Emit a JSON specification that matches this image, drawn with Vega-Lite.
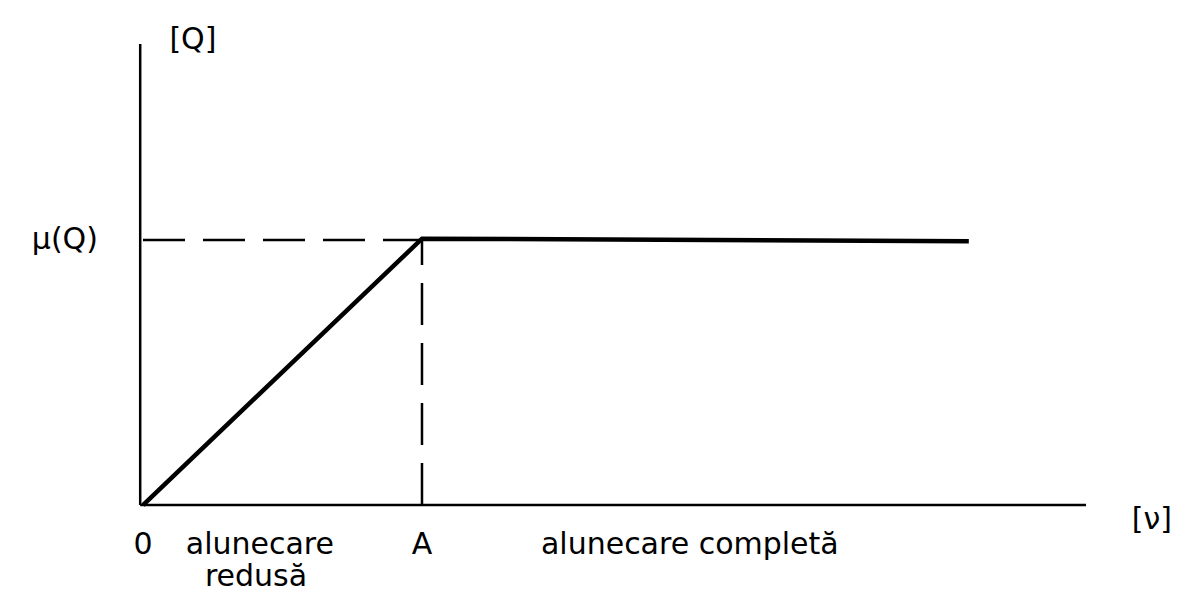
{
  "$schema": "https://vega.github.io/schema/vega-lite/v6.json",
  "width": 1191,
  "height": 595,
  "padding": 0,
  "autosize": {"type": "none"},
  "background": "white",
  "config": {"view": {"stroke": null}},
  "datasets": {
    "axes": [
      {"x": -0.01, "y": 0, "x2": -0.01, "y2": 1.74},
      {"x": -0.01, "y": 0, "x2": 3.38, "y2": 0}
    ],
    "guides": [
      {"x": 0, "y": 1, "x2": 1, "y2": 1},
      {"x": 1, "y": 0, "x2": 1, "y2": 1}
    ],
    "curve": [
      {"x": 0, "y": 0},
      {"x": 1, "y": 1.005},
      {"x": 2.96, "y": 0.995}
    ],
    "labels": [
      {"label": "[Q]", "x": 0.179, "y": 1.755},
      {"label": "μ(Q)", "x": -0.28, "y": 1.0},
      {"label": "0", "x": 0.0, "y": -0.151},
      {"label": "alunecare", "x": 0.419, "y": -0.151},
      {"label": "redusă", "x": 0.405, "y": -0.272},
      {"label": "A", "x": 1.0, "y": -0.151},
      {"label": "alunecare completă", "x": 1.96, "y": -0.151},
      {"label": "[ν]", "x": 3.616, "y": -0.057}
    ]
  },
  "layer": [
    {
      "data": {"name": "axes"},
      "mark": {"type": "rule", "strokeWidth": 2.5, "color": "black"},
      "encoding": {
        "x": {"field": "x", "type": "quantitative", "scale": {"domain": [-0.5125, 3.7563], "nice": false, "zero": false}, "axis": null},
        "y": {"field": "y", "type": "quantitative", "scale": {"domain": [-0.3396, 1.9057], "nice": false, "zero": false}, "axis": null},
        "x2": {"field": "x2"},
        "y2": {"field": "y2"}
      }
    },
    {
      "data": {"name": "guides"},
      "mark": {"type": "rule", "strokeWidth": 2.5, "color": "black", "strokeDash": [42, 18]},
      "encoding": {
        "x": {"field": "x", "type": "quantitative"},
        "y": {"field": "y", "type": "quantitative"},
        "x2": {"field": "x2"},
        "y2": {"field": "y2"}
      }
    },
    {
      "data": {"name": "curve"},
      "mark": {"type": "line", "strokeWidth": 4.5, "color": "black", "strokeJoin": "miter"},
      "encoding": {
        "x": {"field": "x", "type": "quantitative"},
        "y": {"field": "y", "type": "quantitative"}
      }
    },
    {
      "data": {"name": "labels"},
      "mark": {"type": "text", "font": "DejaVu Sans", "fontSize": 30, "color": "black", "align": "center", "baseline": "middle"},
      "encoding": {
        "x": {"field": "x", "type": "quantitative"},
        "y": {"field": "y", "type": "quantitative"},
        "text": {"field": "label"}
      }
    }
  ]
}
